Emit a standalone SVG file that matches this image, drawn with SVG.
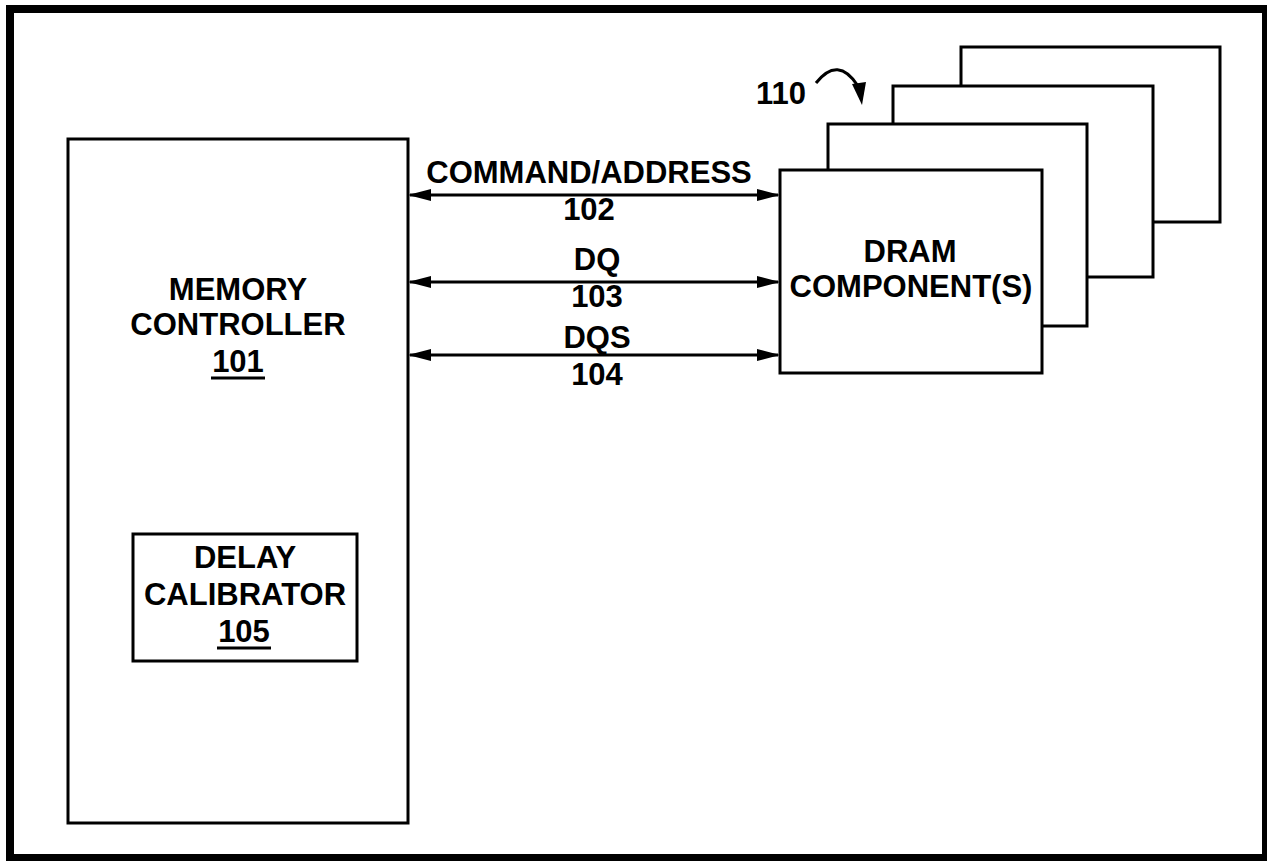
<svg xmlns="http://www.w3.org/2000/svg" width="1267" height="861" viewBox="0 0 1267 861">
  <defs>
    <style>
      .box { fill: #ffffff; stroke: #000000; stroke-width: 3; }
      .lbl { font-family: "Liberation Sans", Arial, sans-serif; font-weight: bold; font-size: 31px; fill: #000000; text-anchor: middle; }
      .ul { stroke: #000000; stroke-width: 3; }
      .bus { stroke: #000000; stroke-width: 3; fill: none; marker-start: url(#arrow); marker-end: url(#arrow); }
    </style>
    <marker id="arrow" viewBox="0 0 23 12" refX="21" refY="6" markerWidth="23" markerHeight="12" markerUnits="userSpaceOnUse" orient="auto-start-reverse">
      <path d="M0,0 L23,6 L0,12 Z" fill="#000000"/>
    </marker>
  </defs>

  <rect x="0" y="0" width="1267" height="861" fill="#ffffff"/>
  <path id="frame" d="M6,5 H1267 V861 H6 Z M14,13 V854 H1262 V13 Z" fill="#000000" fill-rule="evenodd"/>

  <g id="memory-controller">
    <rect class="box" x="68" y="139" width="340" height="684"/>
    <text class="lbl" x="238" y="300">MEMORY</text>
    <text class="lbl" x="238" y="335">CONTROLLER</text>
    <text class="lbl" x="238" y="372">101</text>
    <line class="ul" x1="211" y1="378" x2="265" y2="378"/>
  </g>

  <g id="delay-calibrator">
    <rect class="box" x="133" y="534" width="224" height="127"/>
    <text class="lbl" x="245" y="568">DELAY</text>
    <text class="lbl" x="245" y="605">CALIBRATOR</text>
    <text class="lbl" x="244" y="642">105</text>
    <line class="ul" x1="217" y1="648" x2="271" y2="648"/>
  </g>

  <g id="dram-4">
    <rect class="box" x="961" y="47" width="259" height="175"/>
  </g>
  <g id="dram-3">
    <rect class="box" x="893" y="86" width="260" height="191"/>
  </g>
  <g id="dram-2">
    <rect class="box" x="828" y="124" width="259" height="202"/>
  </g>
  <g id="dram-component">
    <rect class="box" x="780" y="170" width="262" height="203"/>
    <text class="lbl" x="910" y="262">DRAM</text>
    <text class="lbl" x="911" y="297">COMPONENT(S)</text>
  </g>

  <g id="label-110">
    <text class="lbl" x="781" y="104">110</text>
    <path d="M816,83 Q838,55 858,86" fill="none" stroke="#000000" stroke-width="3"/>
    <polygon points="852,84 866,82 862,105" fill="#000000"/>
  </g>

  <g id="connectors">
    <line class="bus" x1="410" y1="195" x2="778" y2="195"/>
    <line class="bus" x1="410" y1="282" x2="778" y2="282"/>
    <line class="bus" x1="410" y1="355" x2="778" y2="355"/>
    <text class="lbl" x="589" y="183">COMMAND/ADDRESS</text>
    <text class="lbl" x="589" y="220">102</text>
    <text class="lbl" x="597" y="270">DQ</text>
    <text class="lbl" x="597" y="307">103</text>
    <text class="lbl" x="597" y="348">DQS</text>
    <text class="lbl" x="597" y="385">104</text>
  </g>
</svg>
